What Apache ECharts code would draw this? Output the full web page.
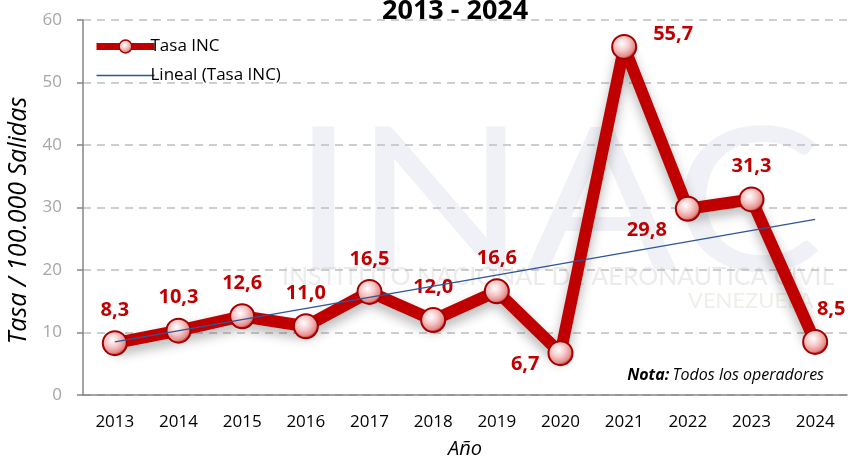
<!DOCTYPE html>
<html>
<head>
<meta charset="utf-8">
<script src="https://cdn.jsdelivr.net/npm/echarts@6/dist/echarts.min.js"></script>
<style>
  html, body { margin: 0; padding: 0; background: #fff; }
  #chart { width: 848px; height: 457px; }
</style>
</head>
<body>
<div id="chart"></div>
<script>
// datos
const years = ['2013', '2014', '2015', '2016', '2017', '2018', '2019', '2020', '2021', '2022', '2023', '2024']
const tasaInc = [8.3, 10.3, 12.6, 11.0, 16.5, 12.0, 16.6, 6.7, 55.7, 29.8, 31.3, 8.5]
// linea de tendencia (extremos)
const tendencia = [8.5, null, null, null, null, null, null, null, null, null, null, 28.1]
const yTicks = { min: 0, max: 60, interval: 10 }

// etiquetas que no van arriba del punto
const labelFix = {
  7: { position: 'left', distance: 8, offset: [0, 11] },
  8: { position: 'right', distance: 16, offset: [0, -13] },
  9: { position: 'left', distance: 8, offset: [0, 22] },
  11: { position: 'top', offset: [16, 0] }
}

const red = '#c00000'
const markerFill = {
  type: 'radial', x: 0.42, y: 0.38, r: 0.62,
  colorStops: [
    { offset: 0, color: '#ffffff' },
    { offset: 0.45, color: '#f6c6c6' },
    { offset: 0.8, color: '#e58a8a' },
    { offset: 1, color: '#b80000' }
  ]
}
const font = 'Open Sans'

const chart = echarts.init(document.getElementById('chart'))
const option = {
  animation: false,
  title: {
    text: '2013 - 2024',
    left: 377,
    top: -7,
    textStyle: { fontFamily: font, fontWeight: 'bold', fontSize: 27, color: '#000' }
  },
  legend: {
    orient: 'vertical',
    left: 88,
    top: 33,
    itemGap: 12,
    itemWidth: 58,
    itemHeight: 16,
    textStyle: { fontFamily: font, fontSize: 17, color: '#000', padding: [0, 0, 0, -9] },
    data: [
      {
        name: 'Tasa INC',
        lineStyle: { color: red, width: 7 },
        itemStyle: { color: markerFill, borderColor: '#a30000', borderWidth: 1.5 }
      },
      {
        name: 'Lineal (Tasa INC)',
        lineStyle: { color: '#2f5597', width: 1.5 },
        itemStyle: { opacity: 0 }
      }
    ]
  },
  grid: { left: 83, right: 1, top: 20, bottom: 62, outerBoundsMode: 'none' },
  graphic: [
    {
      type: 'text', left: 292, top: 105, z: -10, scaleX: 1.12,
      style: { text: 'INAC', fontFamily: 'Lato', fontSize: 200, fill: 'rgba(214,220,234,0.4)' }
    },
    {
      type: 'text', left: 282, top: 264, z: -10,
      style: { text: 'INSTITUTO NACIONAL DE AERONAUTICA CIVIL', fontFamily: 'Lato', fontSize: 25, fill: 'rgba(205,205,205,0.4)' }
    },
    {
      type: 'text', left: 688, top: 290, z: -10,
      style: { text: 'VENEZUELA', fontFamily: 'Lato', fontSize: 22, fill: 'rgba(215,215,200,0.4)' }
    },
    {
      type: 'text', right: 24, top: 367,
      style: {
        text: '{b|Nota:} {i|Todos los operadores}',
        rich: {
          b: { fontFamily: font, fontStyle: 'italic', fontWeight: 'bold', fontSize: 16, fill: '#000' },
          i: { fontFamily: font, fontStyle: 'italic', fontSize: 16, fill: '#000' }
        }
      }
    }
  ],
  xAxis: {
    type: 'category',
    data: years,
    name: 'Año',
    nameLocation: 'middle',
    nameGap: 44,
    nameTextStyle: { fontFamily: font, fontStyle: 'italic', fontSize: 20, color: '#000' },
    axisLine: { lineStyle: { color: '#868686', width: 1.5 } },
    axisTick: { length: 6, lineStyle: { color: '#868686', width: 1.5 } },
    axisLabel: { fontFamily: font, fontSize: 17, color: '#000', margin: 19 }
  },
  yAxis: {
    type: 'value',
    min: yTicks.min,
    max: yTicks.max,
    interval: yTicks.interval,
    name: 'Tasa / 100.000 Salidas',
    nameLocation: 'middle',
    nameGap: 52,
    nameTextStyle: { fontFamily: font, fontStyle: 'italic', fontSize: 25, color: '#000', padding: [0, 26, 0, 0] },
    axisLine: { show: true, lineStyle: { color: '#868686', width: 1.5 } },
    axisTick: { show: true, length: 6, lineStyle: { color: '#868686', width: 1.5 } },
    axisLabel: { fontFamily: font, fontSize: 17, color: '#a6a6a6', margin: 21 },
    splitLine: { lineStyle: { color: '#bfbfbf', type: [8, 6], width: 1.5 } }
  },
  series: [
    {
      name: 'Tasa INC',
      type: 'line',
      z: 3,
      symbol: 'circle',
      symbolSize: 24,
      itemStyle: { color: markerFill, borderColor: '#a30000', borderWidth: 2 },
      lineStyle: {
        color: red, width: 12,
        shadowColor: 'rgba(0,0,0,0.3)', shadowBlur: 12, shadowOffsetY: 6
      },
      label: {
        show: true,
        position: 'top',
        distance: 10,
        fontFamily: font,
        fontWeight: 'bold',
        fontSize: 20,
        color: red,
        formatter: p => p.value.toFixed(1).replace('.', ',')
      },
      data: tasaInc.map((v, i) => labelFix[i] ? { value: v, label: labelFix[i] } : v)
    },
    {
      name: 'Lineal (Tasa INC)',
      type: 'line',
      z: 4,
      symbol: 'none',
      connectNulls: true,
      itemStyle: { color: '#2f5597' },
      lineStyle: { color: '#2f5597', width: 1.5 },
      data: tendencia
    }
  ]
}
option && chart.setOption(option)
</script>
</body>
</html>
